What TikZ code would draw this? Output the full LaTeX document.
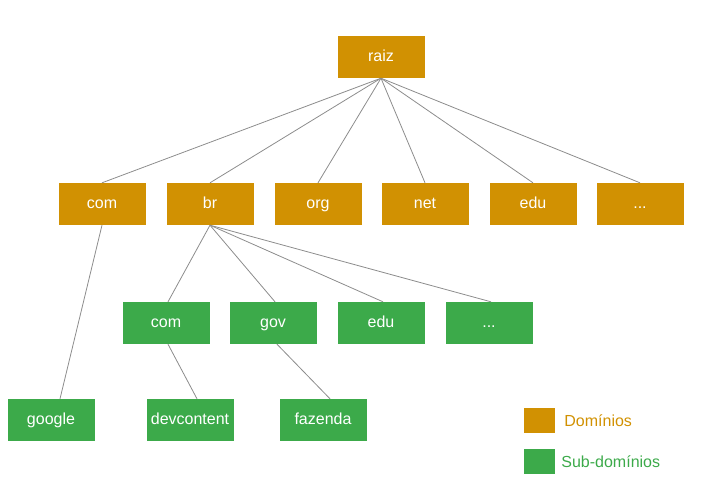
\documentclass[tikz,border=0pt]{standalone}
\usepackage{fontspec}
\setmainfont{Liberation Sans}
\usetikzlibrary{positioning}
\definecolor{dominioColor}{RGB}{209,145,2}
\definecolor{subdominioColor}{RGB}{60,170,74}
\definecolor{lineColor}{RGB}{140,140,140}
\tikzstyle{arvore} = [x = 1pt, y = -1pt]
\tikzstyle{caixa} = [minimum width = 87pt, minimum height = 42pt, inner sep = 0pt, text = white, text height = 11.5pt, text depth = 3.5pt, font = \fontsize{16}{18}\selectfont]
\tikzstyle{dominioStyle} = [caixa, fill = dominioColor]
\tikzstyle{subdominioStyle} = [caixa, fill = subdominioColor]
\tikzstyle{ligacao} = [color = lineColor, line width = .8pt]
\tikzstyle{legendaText} = [anchor = west, inner sep = 0pt, font = \fontsize{16}{18}\selectfont]
\newcommand{\dominio}[4]{\node [dominioStyle] (#1) at (#2, #3) {#4};}
\newcommand{\subdominio}[4]{\node [subdominioStyle] (#1) at (#2, #3) {#4};}
\begin{document}
\begin{tikzpicture}[arvore]
  \useasboundingbox (0,0) rectangle (707,496);
  % raiz e dominios
  \dominio{raiz}{381}{57}{raiz}
  \dominio{com}{102}{204}{com}
  \dominio{br}{210}{204}{br}
  \dominio{org}{318}{204}{org}
  \dominio{net}{425}{204}{net}
  \dominio{edu}{533}{204}{edu}
  \dominio{outros}{640}{204}{...}
  % sub-dominios de br
  \subdominio{brcom}{166}{323}{com}
  \subdominio{brgov}{273}{323}{gov}
  \subdominio{bredu}{381}{323}{edu}
  \subdominio{broutros}{489}{323}{...}
  % terceiro nivel
  \subdominio{google}{51}{420}{google}
  \subdominio{devcontent}{190}{420}{devcontent}
  \subdominio{fazenda}{323}{420}{fazenda}
  % ligacoes
  \foreach \filho in {com, br, org, net, edu, outros} {
    \draw [ligacao] (raiz.south) -- (\filho.north);
  }
  \foreach \filho in {brcom, brgov, bredu, broutros} {
    \draw [ligacao] (br.south) -- ([xshift = 2pt]\filho.north);
  }
  \draw [ligacao] (com.south) -- ([xshift = 9pt]google.north);
  \draw [ligacao] ([xshift = 2pt]brcom.south) -- ([xshift = 7pt]devcontent.north);
  \draw [ligacao] ([xshift = 4pt]brgov.south) -- ([xshift = 7pt]fazenda.north);
  % legenda
  \node [fill = dominioColor, minimum width = 31pt, minimum height = 25pt, inner sep = 0pt] (legDominio) at (539.5, 420.5) {};
  \node [fill = subdominioColor, minimum width = 31pt, minimum height = 25pt, inner sep = 0pt] (legSub) at (539.5, 461.5) {};
  \node [legendaText, text = dominioColor, right = 9pt of legDominio] (txtDominio) {Domínios};
  \node [legendaText, text = subdominioColor, right = 6pt of legSub] (txtSub) {Sub-domínios};
\end{tikzpicture}
\end{document}
